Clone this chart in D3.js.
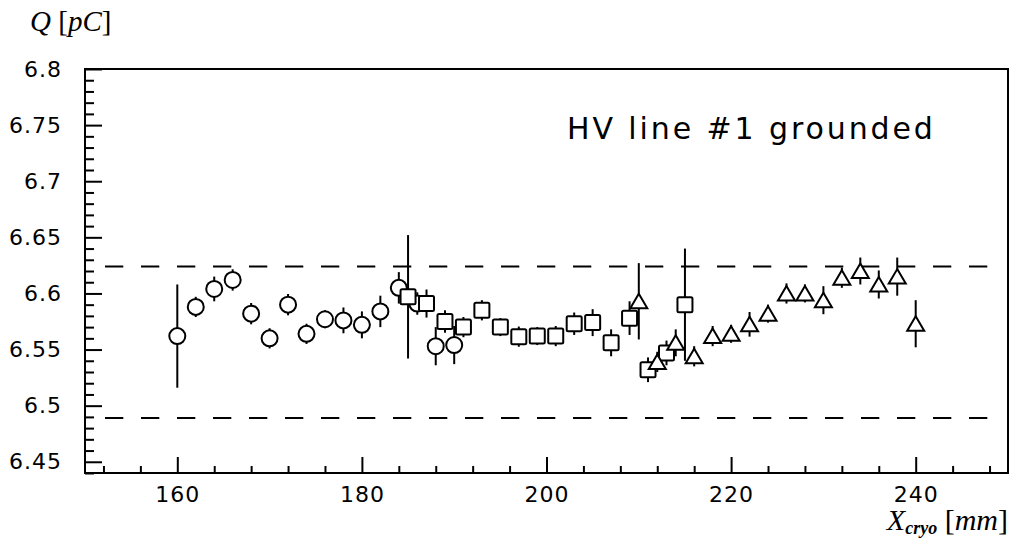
<!DOCTYPE html>
<html>
<head>
<meta charset="utf-8">
<script src="https://cdn.jsdelivr.net/npm/d3@7"></script>
<style>
  html, body { margin: 0; padding: 0; background: #fff; }
  svg { display: block; }
  .tick-label { font-family: 'DejaVu Sans', sans-serif; font-size: 22px; fill: #000; letter-spacing: 1px; }
  .math { font-family: 'Liberation Serif', 'DejaVu Serif', serif; fill: #000; }
  .note { font-family: 'DejaVu Sans', sans-serif; font-size: 30px; fill: #000; letter-spacing: 2.9px; }
</style>
</head>
<body>
<div id="chart"></div>
<script>
// ─── Data ──────────────────────────────────────────────────────────────────
const X_TICKS = [160, 180, 200, 220, 240];
const Y_TICKS = [6.45, 6.5, 6.55, 6.6, 6.65, 6.7, 6.75, 6.8];
const LIMITS = [6.489, 6.624];

const CIRCLE_X   = [160, 162, 164, 166, 168, 170, 172, 174, 176, 178, 180, 182, 184, 186, 188, 190];
const CIRCLE_Q   = [6.562, 6.588, 6.604, 6.612, 6.582, 6.560, 6.590, 6.564, 6.577, 6.576, 6.572, 6.584, 6.605, 6.591, 6.553, 6.554];
const CIRCLE_ERR = [0.046, 0.009, 0.011, 0.0095, 0.0095, 0.009, 0.0095, 0.009, 0.008, 0.0115, 0.012, 0.014, 0.014, 0.010, 0.017, 0.017];

const SQUARE_X   = [185, 187, 189, 191, 193, 195, 197, 199, 201, 203, 205, 207, 209, 211, 213, 215];
const SQUARE_Q   = [6.597, 6.591, 6.575, 6.570, 6.585, 6.570, 6.5615, 6.562, 6.562, 6.573, 6.574, 6.556, 6.578, 6.532, 6.547, 6.590];
const SQUARE_ERR = [0.055, 0.0125, 0.010, 0.009, 0.009, 0.008, 0.009, 0.008, 0.009, 0.010, 0.012, 0.012, 0.015, 0.011, 0.011, 0.05];

const TRIANGLE_X   = [210, 212, 214, 216, 218, 220, 222, 224, 226, 228, 230, 232, 234, 236, 238, 240];
const TRIANGLE_Q   = [6.593, 6.539, 6.556, 6.544, 6.562, 6.564, 6.5725, 6.582, 6.600, 6.600, 6.594, 6.614, 6.620, 6.608, 6.615, 6.573];
const TRIANGLE_ERR = [0.034, 0.009, 0.012, 0.009, 0.009, 0.008, 0.011, 0.008, 0.009, 0.008, 0.0125, 0.009, 0.012, 0.0125, 0.017, 0.021];

// ─── Layout ────────────────────────────────────────────────────────────────
const W = 1016, H = 544;
const plot = { left: 85, right: 1008, top: 69, bottom: 473 };

const svg = d3.select('#chart').append('svg')
  .attr('width', W).attr('height', H);

svg.append('rect').attr('width', W).attr('height', H).attr('fill', '#fff');

const x = d3.scaleLinear().domain([150, 250]).range([plot.left, plot.right]);
const y = d3.scaleLinear().domain([6.44, 6.8]).range([plot.bottom, plot.top]);

const xMinor = d3.range(152, 250, 4).filter(v => v % 20 !== 0);
const yMinor = d3.range(644, 681).filter(v => v % 5 !== 0).map(v => v / 100);

function ticks(axis, transform) {
  const g = svg.append('g').attr('transform', transform).call(axis);
  g.select('.domain').remove();
  g.selectAll('line').attr('stroke', '#000').attr('stroke-width', 2);
  return g;
}

// inward ticks
ticks(d3.axisTop(x).tickValues(X_TICKS).tickSize(16).tickFormat(''), `translate(0,${plot.bottom})`);
ticks(d3.axisTop(x).tickValues(xMinor).tickSize(7).tickFormat(''), `translate(0,${plot.bottom})`);
ticks(d3.axisRight(y).tickValues(Y_TICKS).tickSize(17).tickFormat(''), `translate(${plot.left},0)`);
ticks(d3.axisRight(y).tickValues(yMinor).tickSize(9).tickFormat(''), `translate(${plot.left},0)`);

// tick labels
ticks(d3.axisBottom(x).tickValues(X_TICKS).tickSize(0).tickPadding(13), `translate(0,${plot.bottom})`)
  .selectAll('text').attr('class', 'tick-label');
ticks(d3.axisLeft(y).tickValues(Y_TICKS).tickSize(0).tickPadding(23).tickFormat(d => String(+d.toFixed(2))), `translate(${plot.left},0)`)
  .selectAll('text').attr('class', 'tick-label');

// frame
svg.append('rect')
  .attr('x', plot.left).attr('y', plot.top)
  .attr('width', plot.right - plot.left).attr('height', plot.bottom - plot.top)
  .attr('fill', 'none').attr('stroke', '#000').attr('stroke-width', 2);

// limit lines
svg.selectAll('.limit')
  .data(LIMITS)
  .enter()
  .append('line')
  .attr('class', 'limit')
  .attr('x1', plot.left + 20).attr('x2', plot.right - 19)
  .attr('y1', d => y(d)).attr('y2', d => y(d))
  .attr('stroke', '#000').attr('stroke-width', 2)
  .attr('stroke-dasharray', '18.3 17.7');

// ─── Series ────────────────────────────────────────────────────────────────
function series(xs, qs, errs, drawMarker) {
  const data = xs.map((v, i) => ({ x: v, q: qs[i], e: errs[i] }));
  const g = svg.append('g');
  g.selectAll('.err')
    .data(data)
    .enter()
    .append('line')
    .attr('x1', d => x(d.x)).attr('x2', d => x(d.x))
    .attr('y1', d => y(d.q + d.e)).attr('y2', d => y(d.q - d.e))
    .attr('stroke', '#000').attr('stroke-width', 2);
  const m = g.selectAll('.mk')
    .data(data)
    .enter()
    .append('g')
    .attr('transform', d => `translate(${x(d.x)},${y(d.q)})`);
  drawMarker(m);
}

function markerStyle(sel) {
  return sel.attr('fill', '#fff').attr('stroke', '#000').attr('stroke-width', 2);
}

series(CIRCLE_X, CIRCLE_Q, CIRCLE_ERR, m => markerStyle(m.append('circle').attr('r', 8)));
series(SQUARE_X, SQUARE_Q, SQUARE_ERR, m => markerStyle(
  m.append('rect').attr('x', -7.5).attr('y', -7.5).attr('width', 15).attr('height', 15).attr('rx', 1.5)));
series(TRIANGLE_X, TRIANGLE_Q, TRIANGLE_ERR, m => markerStyle(
  m.append('path').attr('d', 'M0,-7.5L8.5,7L-8.5,7Z').attr('stroke-linejoin', 'miter')));

// ─── Texts ─────────────────────────────────────────────────────────────────
svg.append('text')
  .attr('class', 'note')
  .attr('x', 567).attr('y', 139)
  .text('HV line #1 grounded');

const yTitle = svg.append('text').attr('class', 'math')
  .attr('x', 30).attr('y', 31).style('font-size', '29px');
yTitle.append('tspan').style('font-style', 'italic').text('Q');
yTitle.append('tspan').text(' [');
yTitle.append('tspan').style('font-style', 'italic').text('pC');
yTitle.append('tspan').text(']');

const xTitle = svg.append('text').attr('class', 'math')
  .attr('x', 1008).attr('y', 530).attr('text-anchor', 'end').style('font-size', '30px');
xTitle.append('tspan').style('font-style', 'italic').text('X');
xTitle.append('tspan').style('font-style', 'italic').style('font-weight', 'bold')
  .style('font-size', '18px').attr('dy', 4).text('cryo');
xTitle.append('tspan').attr('dy', -4).text(' [');
xTitle.append('tspan').style('font-style', 'italic').text('mm');
xTitle.append('tspan').text(']');
</script>
</body>
</html>
